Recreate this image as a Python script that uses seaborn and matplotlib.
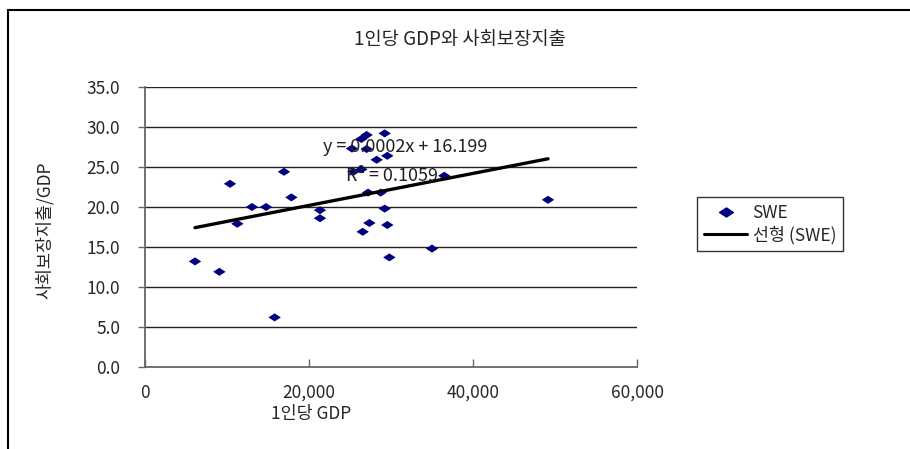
import numpy as np
import pandas as pd
import matplotlib
matplotlib.use("Agg")
import matplotlib.pyplot as plt
import seaborn as sns
from matplotlib.path import Path
from matplotlib.markers import MarkerStyle
from matplotlib.lines import Line2D
from matplotlib.patches import Rectangle

# ---- data ----
gdp_per_capita = [6100, 9070, 10370, 11260, 13050, 14760, 15810, 16950, 17850,
                  21340, 21340, 26550, 27360, 29550, 29800, 29230, 27200, 28740,
                  25410, 26380, 28250, 29550, 25240, 27030, 26380, 27030, 29230,
                  36500, 49150, 35000]
social_spending = [13.2, 11.9, 22.9, 17.9, 20.0, 20.0, 6.2, 24.4, 21.2,
                   19.6, 18.6, 16.9, 18.0, 17.75, 13.7, 19.8, 21.8, 21.8,
                   24.4, 24.7, 25.9, 26.4, 27.3, 27.25, 28.5, 29.0, 29.2,
                   23.9, 20.9, 14.8]
trend_slope = 0.0002
trend_intercept = 16.199
r_squared = 0.1059
series_name = "SWE"
trend_name = "선형 (SWE)"
title_text = "1인당 GDP와 사회보장지출"
x_label = "1인당 GDP"
y_label = "사회보장지출/GDP"
x_ticks = [0, 20000, 40000, 60000]
y_ticks = [0, 5, 10, 15, 20, 25, 30, 35]

df = pd.DataFrame({"gdp": gdp_per_capita, "ss": social_spending})
x_fit = np.array([min(gdp_per_capita), max(gdp_per_capita)])
trend_df = pd.DataFrame({"gdp": x_fit, "ss": trend_slope * x_fit + trend_intercept})

sns.set_theme(style="white")
plt.rcParams["font.family"] = ["Noto Sans CJK KR", "DejaVu Sans"]
plt.rcParams["font.weight"] = "light"

W, H = 910, 449
fig = plt.figure(figsize=(W / 100, H / 100), dpi=100)
ax = fig.add_axes([145 / W, 1 - 367 / H, (637 - 145) / W, (367 - 87) / H])

diamond = MarkerStyle(Path([(-1, 0), (0, 0.65), (1, 0), (0, -0.65), (-1, 0)],
                           [Path.MOVETO, Path.LINETO, Path.LINETO, Path.LINETO, Path.CLOSEPOLY]))
navy = "#000080"

for yv in y_ticks[1:]:
    ax.axhline(yv, color="#222222", lw=1.0, zorder=0)

sns.lineplot(data=trend_df, x="gdp", y="ss", ax=ax, color="black", lw=2.4, zorder=3)
sns.scatterplot(data=df, x="gdp", y="ss", ax=ax, marker=diamond, s=80,
                color=navy, edgecolor="none", linewidth=0, zorder=2)

ax.set_xlim(0, 60000)
ax.set_ylim(0, 35)
ax.set_xticks(x_ticks)
ax.set_xticklabels([f"{v:,}" for v in x_ticks])
ax.set_yticks(y_ticks)
ax.set_yticklabels([f"{v:.1f}" for v in y_ticks])

for s in ["top", "right"]:
    ax.spines[s].set_visible(False)
for s in ["left", "bottom"]:
    ax.spines[s].set_color("#666666")
    ax.spines[s].set_linewidth(1.3)

ax.tick_params(axis="y", direction="out", length=5, width=1, color="#666666",
               pad=13, labelsize=12.5, left=True)
ax.tick_params(axis="x", direction="in", length=6, width=1, color="#666666",
               pad=12, labelsize=12.5, bottom=True)

ax.set_xlabel(x_label, fontsize=12.5)
ax.set_ylabel(y_label, fontsize=12.5)
ax.xaxis.set_label_coords((311 - 145) / 492, (367 - 405) / 280)
ax.yaxis.set_label_coords((54 - 145) / 492, (367 - 230) / 280)

ax.text(31700, 27.5, f"y = {trend_slope}x + {trend_intercept}", fontsize=13,
        va="center", ha="center", color="#222222", zorder=4)
ax.text(30120, 23.9, f"R² = {r_squared}", fontsize=13,
        va="center", ha="center", color="#222222", zorder=4)

fig.text(0.505, 1 - 40 / H, title_text, ha="center", va="center", fontsize=13.5)

handles = [Line2D([], [], ls="none", marker=diamond, markersize=10, color=navy),
           Line2D([], [], color="black", lw=2.2)]
leg = fig.legend(handles, [series_name, trend_name], loc="upper left",
                 bbox_to_anchor=(697 / W, 1 - 197 / H), borderaxespad=0,
                 fancybox=False, frameon=True, edgecolor="black", fontsize=12.5,
                 handlelength=2.5, handletextpad=0.3, borderpad=0.4,
                 labelspacing=0.2)
leg.get_frame().set_linewidth(1.0)

fig.patches.append(Rectangle((8 / W, -0.05), 1.2, 1 - 10 / H + 0.05,
                             transform=fig.transFigure, fill=False,
                             edgecolor="black", lw=1.5))

fig.savefig("out.png", dpi=100)
